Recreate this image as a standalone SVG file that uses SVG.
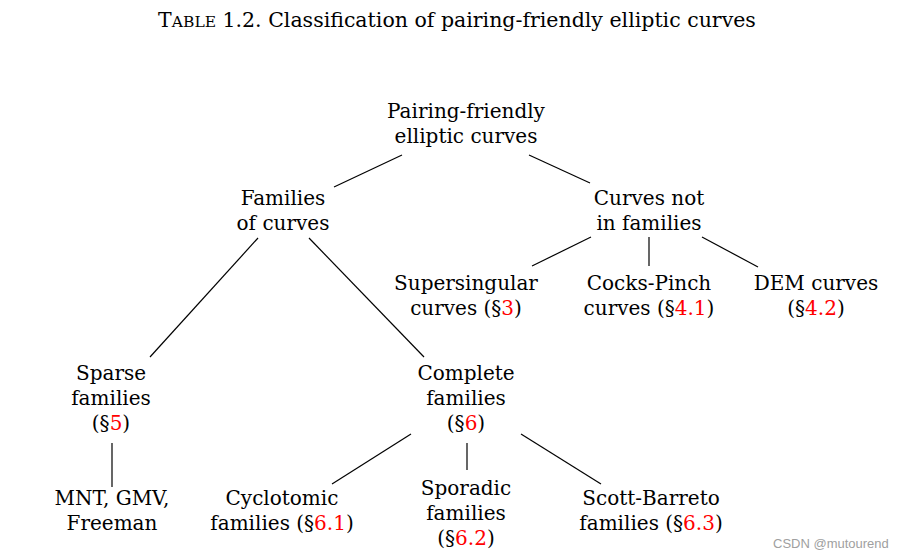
<svg xmlns="http://www.w3.org/2000/svg" width="912" height="560" viewBox="0 0 912 560">
<style>
text{font-family:"DejaVu Serif","Liberation Serif",serif;font-size:20px;fill:#000;text-anchor:middle}
.r{fill:#ff0000}
.t{font-size:20.5px}
.sc{font-size:15.5px}
.wm{font-family:"Liberation Sans",Arial,sans-serif;font-size:13px;fill:#a0a0a0;text-anchor:start}
#connectors line{stroke:#000;stroke-width:1.2;fill:none}
</style>
<rect width="912" height="560" fill="#fff"/>
<text class="t" x="457" y="27">T<tspan class="sc">ABLE</tspan> 1.2.  Classification of pairing-friendly elliptic curves</text>
<g id="connectors">
<line x1="402" y1="155" x2="334" y2="187"/>
<line x1="529" y1="155" x2="590" y2="183"/>
<line x1="591" y1="237" x2="532" y2="266"/>
<line x1="649" y1="237" x2="649" y2="266"/>
<line x1="702" y1="237" x2="758" y2="267"/>
<line x1="258" y1="238" x2="150" y2="357"/>
<line x1="309" y1="238" x2="424" y2="357"/>
<line x1="112" y1="443" x2="112" y2="487"/>
<line x1="411" y1="434" x2="332" y2="484"/>
<line x1="467" y1="443" x2="467" y2="470"/>
<line x1="521" y1="434" x2="601" y2="484"/>
</g>
<g id="root"><text x="466" y="118">Pairing-friendly</text><text x="466" y="143">elliptic curves</text></g>
<g id="families"><text x="283" y="205">Families</text><text x="283" y="230">of curves</text></g>
<g id="notfamilies"><text x="649" y="205">Curves not</text><text x="649" y="230">in families</text></g>
<g id="supersingular"><text x="466" y="290">Supersingular</text><text x="466" y="315">curves (§<tspan class="r">3</tspan>)</text></g>
<g id="cockspinch"><text x="649" y="290">Cocks-Pinch</text><text x="649" y="315">curves (§<tspan class="r">4.1</tspan>)</text></g>
<g id="dem"><text x="816" y="290">DEM curves</text><text x="816" y="315">(§<tspan class="r">4.2</tspan>)</text></g>
<g id="sparse"><text x="111" y="380">Sparse</text><text x="111" y="405">families</text><text x="111" y="430">(§<tspan class="r">5</tspan>)</text></g>
<g id="complete"><text x="466" y="380">Complete</text><text x="466" y="405">families</text><text x="466" y="430">(§<tspan class="r">6</tspan>)</text></g>
<g id="mnt"><text x="112" y="505">MNT, GMV,</text><text x="112" y="530">Freeman</text></g>
<g id="cyclotomic"><text x="282" y="505">Cyclotomic</text><text x="282" y="530">families (§<tspan class="r">6.1</tspan>)</text></g>
<g id="sporadic"><text x="466" y="495">Sporadic</text><text x="466" y="520">families</text><text x="466" y="545">(§<tspan class="r">6.2</tspan>)</text></g>
<g id="scott"><text x="651" y="505">Scott-Barreto</text><text x="651" y="530">families (§<tspan class="r">6.3</tspan>)</text></g>
<text class="wm" x="773" y="548">CSDN @mutourend</text>
</svg>
